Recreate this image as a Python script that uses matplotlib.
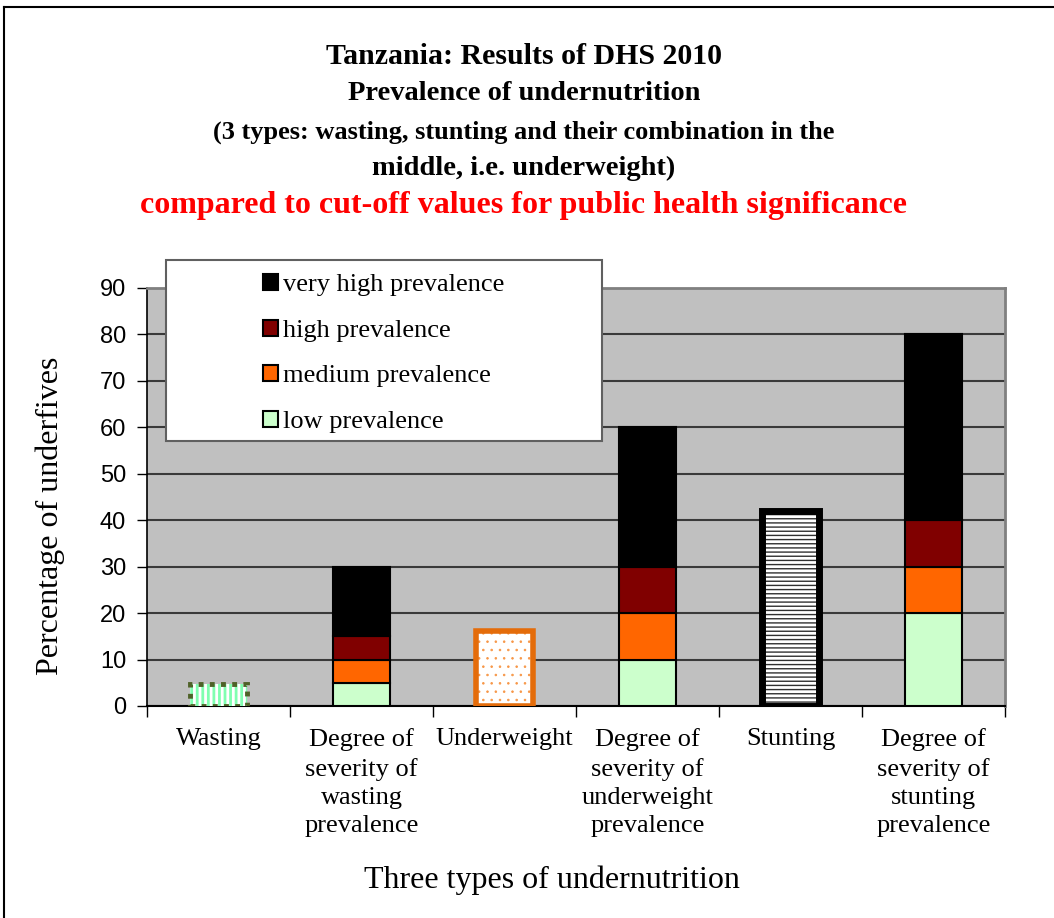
import matplotlib.pyplot as plt
from matplotlib.patches import Patch, Rectangle
from matplotlib.lines import Line2D

# categories on the x axis
categories = ["Wasting",
              "Degree of\nseverity of\nwasting\nprevalence",
              "Underweight",
              "Degree of\nseverity of\nunderweight\nprevalence",
              "Stunting",
              "Degree of\nseverity of\nstunting\nprevalence"]

# observed prevalence (DHS 2010), drawn at positions 0, 2, 4
types = ["Wasting", "Underweight", "Stunting"]
prevalence = [4.8, 16.2, 42.0]

# cut-off bands, stacked at positions 1, 3, 5
low = [5, 10, 20]
medium = [5, 10, 10]
high = [5, 10, 10]
very_high = [15, 30, 40]

band_labels = ["low prevalence", "medium prevalence", "high prevalence", "very high prevalence"]
band_colors = ["#CCFFCC", "#FF6600", "#800000", "#000000"]

title_lines = ["Tanzania: Results of DHS 2010",
               "Prevalence of undernutrition",
               "(3 types: wasting, stunting and their combination in the",
               "middle, i.e. underweight)"]
title_sizes = [21.5, 20.5, 19, 20.5]
red_line = "compared to cut-off values for public health significance"

W, H = 1054, 918
fig = plt.figure(figsize=(W / 100, H / 100), dpi=100)
serif = "Liberation Serif"

ax = fig.add_axes([147 / W, 1 - 706 / H, (1005 - 147) / W, (706 - 288) / H])
ax.set_facecolor("#C0C0C0")
ax.set_xlim(-0.5, 5.5)
ax.set_ylim(0, 90)
ax.set_yticks(range(0, 91, 10))
ax.yaxis.grid(True, color="#3a3a3a", linewidth=1.5)
ax.set_axisbelow(True)

w = 0.4
pos_single = [0, 2, 4]
pos_stack = [1, 3, 5]

# stacked cut-off bars
bottom = [0, 0, 0]
for vals, col in zip([low, medium, high, very_high], band_colors):
    ax.bar(pos_stack, vals, width=w, bottom=bottom, color=col,
           edgecolor="black", linewidth=1.5, zorder=3)
    bottom = [b + v for b, v in zip(bottom, vals)]

# observed bars with their own patterns
plt.rcParams["hatch.linewidth"] = 2.0
ax.bar(pos_single[0], prevalence[0], width=w, color="white", edgecolor="#80FFB0",
       hatch="|||", linewidth=0, zorder=3)
ax.bar(pos_single[0], prevalence[0], width=w, color="none", edgecolor="#4F6228",
       linestyle=(0, (1, 1.3)), linewidth=3.5, zorder=4)

plt.rcParams["hatch.linewidth"] = 0.6
ax.bar(pos_single[1], prevalence[1], width=w, color="white", edgecolor="#F79646",
       hatch="..", linewidth=0, zorder=3)
ax.bar(pos_single[1], prevalence[1], width=w, color="none", edgecolor="#E46C0A",
       linewidth=4, zorder=4)

plt.rcParams["hatch.linewidth"] = 1.0
ax.bar(pos_single[2], prevalence[2], width=w, color="white", edgecolor="#303030",
       hatch="----", linewidth=0, zorder=3)
ax.bar(pos_single[2], prevalence[2], width=w, color="none", edgecolor="black",
       linewidth=5, zorder=4)

# axes styling
for s in ["top", "right"]:
    ax.spines[s].set_color("#808080")
    ax.spines[s].set_linewidth(2)
ax.spines["left"].set_color("black")
ax.spines["bottom"].set_color("black")
ax.spines["left"].set_linewidth(1.2)
ax.spines["bottom"].set_linewidth(1.5)

ax.set_xticks(range(6))
ax.set_xticklabels(categories, fontfamily=serif, fontsize=19, linespacing=1.37,
                   va="top")
ax.set_xticks([i + 0.5 for i in range(-1, 6)], minor=True)
ax.tick_params(axis="x", which="major", length=0, pad=16)
ax.tick_params(axis="x", which="minor", length=8, width=1, direction="out")
ax.tick_params(axis="y", length=7, width=1, direction="out", pad=8)
for t in ax.get_yticklabels():
    t.set_fontfamily("Liberation Sans")
    t.set_fontsize(17)

fig.text(50 / W, 1 - 516 / H, "Percentage of underfives", fontfamily=serif,
         fontsize=23, rotation=90, ha="center", va="center")
fig.text(552 / W, 1 - 880 / H, "Three types of undernutrition", fontfamily=serif,
         fontsize=23, ha="center", va="center")

# title
ys = [57, 94, 132, 168]
for line, y, fs in zip(title_lines, ys, title_sizes):
    fig.text(524 / W, 1 - y / H, line, fontfamily=serif, fontweight="bold",
             fontsize=fs, ha="center", va="center")
fig.text(524 / W, 1 - 206 / H, red_line, fontfamily=serif, fontweight="bold",
         fontsize=23, color="red", ha="center", va="center")

# legend with a fixed frame
fig.patches.append(Rectangle((166 / W, 1 - 441 / H), (602 - 166) / W, (441 - 260) / H,
                             transform=fig.transFigure, facecolor="white",
                             edgecolor="#606060", linewidth=1.5, zorder=5))
handles = [Patch(facecolor=c, edgecolor="black", linewidth=1.5) for c in band_colors][::-1]
leg = fig.legend(handles, band_labels[::-1], loc="upper left",
                 bbox_to_anchor=(250 / W, 1 - 261 / H), frameon=False,
                 prop={"family": serif, "size": 19}, handlelength=0.55,
                 handleheight=0.55, handletextpad=0.2, labelspacing=0.88,
                 borderpad=0)
leg.set_zorder(6)

# outer frame (left and top edges visible)
fig.add_artist(Line2D([4 / W, 4 / W], [0, 1 - 7 / H], transform=fig.transFigure,
                      color="black", linewidth=1.5))
fig.add_artist(Line2D([4 / W, 1], [1 - 7 / H, 1 - 7 / H], transform=fig.transFigure,
                      color="black", linewidth=1.5))

fig.savefig("out.png", dpi=100)
